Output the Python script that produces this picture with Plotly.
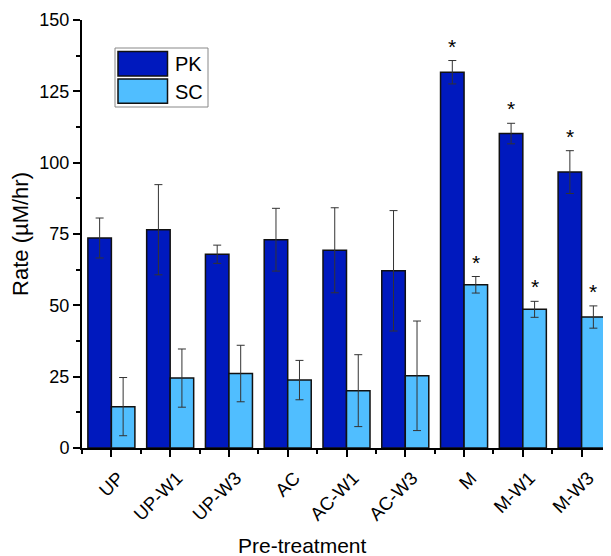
import plotly.graph_objects as go

categories = ["UP", "UP-W1", "UP-W3", "AC", "AC-W1", "AC-W3", "M", "M-W1", "M-W3"]
pk_values = [73.6, 76.5, 67.9, 73.0, 69.3, 62.1, 131.7, 110.2, 96.7]
pk_errors = [7.0, 15.8, 3.2, 11.0, 14.9, 21.1, 4.1, 3.6, 7.5]
sc_values = [14.5, 24.5, 26.1, 23.8, 20.1, 25.3, 57.2, 48.6, 45.9]
sc_errors = [10.2, 10.2, 9.9, 6.9, 12.6, 19.2, 2.9, 2.8, 3.9]
pk_signif = [False, False, False, False, False, False, True, True, True]
sc_signif = [False, False, False, False, False, False, True, True, True]
y_ticks = [0, 25, 50, 75, 100, 125, 150]

PK_COLOR = "#0019BE"
SC_COLOR = "#50BEFF"
FONT = "Arial, Liberation Sans, sans-serif"

xs = list(range(len(categories)))

fig = go.Figure()
for name, vals, errs, col in [("PK", pk_values, pk_errors, PK_COLOR),
                              ("SC", sc_values, sc_errors, SC_COLOR)]:
    fig.add_trace(go.Bar(
        x=xs, y=vals, name=name,
        marker=dict(color=col, line=dict(color="#111111", width=1.5)),
        error_y=dict(type="data", array=errs, visible=True,
                     color="#333333", thickness=1, width=4),
        showlegend=False,
    ))

annotations = []
for i in xs:
    if pk_signif[i]:
        annotations.append(dict(x=i - 0.2, y=pk_values[i] + pk_errors[i], xref="x", yref="y",
                                text="*", showarrow=False, yanchor="bottom", yshift=1,
                                font=dict(family=FONT, size=21, color="black")))
    if sc_signif[i]:
        annotations.append(dict(x=i + 0.2, y=sc_values[i] + sc_errors[i], xref="x", yref="y",
                                text="*", showarrow=False, yanchor="bottom", yshift=1,
                                font=dict(family=FONT, size=21, color="black")))

# plot area spans page px x 82..611, y 20..448 (page body has 8px margin)
PX0, PW, PY0, PH = 82, 529, 448, 428
def px(x):
    return (x - PX0) / PW
def py(y):
    return (PY0 - y) / PH

shapes = [
    dict(type="rect", xref="paper", yref="paper", x0=px(115), x1=px(208), y0=py(107), y1=py(48),
         line=dict(color="#888888", width=1), fillcolor="white"),
    dict(type="rect", xref="paper", yref="paper", x0=px(118), x1=px(167.5), y0=py(76), y1=py(51.5),
         line=dict(color="#111111", width=1.5), fillcolor=PK_COLOR),
    dict(type="rect", xref="paper", yref="paper", x0=px(118), x1=px(167.5), y0=py(103.3), y1=py(79),
         line=dict(color="#111111", width=1.5), fillcolor=SC_COLOR),
]
annotations += [
    dict(x=px(173), y=py(64), xref="paper", yref="paper", text="PK", showarrow=False,
         xanchor="left", yanchor="middle", font=dict(family=FONT, size=20, color="black")),
    dict(x=px(173), y=py(92), xref="paper", yref="paper", text="SC", showarrow=False,
         xanchor="left", yanchor="middle", font=dict(family=FONT, size=20, color="black")),
    dict(x=px(302.5), y=py(545), xref="paper", yref="paper", text="Pre-treatment",
         showarrow=False, xanchor="center", yanchor="middle",
         font=dict(family=FONT, size=21, color="black")),
]

fig.update_layout(
    width=603, height=548,
    margin=dict(l=74, r=0, t=12, b=108),
    plot_bgcolor="white", paper_bgcolor="white",
    barmode="group", bargap=0.2, bargroupgap=0,
    font=dict(family=FONT, color="black"),
    shapes=shapes, annotations=annotations,
)
fig.update_xaxes(
    range=[-0.5, 8.5], tickmode="array", tickvals=xs, ticktext=categories,
    tickangle=-45, tickfont=dict(size=18.5, family=FONT),
    ticklabelshift=7, ticklabelstandoff=3,
    showline=True, linecolor="black", linewidth=2,
    ticks="outside", ticklen=7, tickwidth=1.5, tickcolor="black",
    minor=dict(ticks="outside", ticklen=4, tickwidth=1.5, tickcolor="black",
               tickmode="linear", tick0=0.5, dtick=1),
    showgrid=False, zeroline=False,
)
fig.update_yaxes(
    range=[0, 150], tickmode="array", tickvals=y_ticks,
    tickfont=dict(size=18, family=FONT),
    title=dict(text="Rate (µM/hr)", font=dict(size=22, family=FONT), standoff=10),
    showline=True, linecolor="black", linewidth=2,
    ticks="outside", ticklen=7, tickwidth=1.5, tickcolor="black",
    minor=dict(ticks="outside", ticklen=4, tickwidth=1.5, tickcolor="black",
               tickmode="linear", tick0=12.5, dtick=25),
    showgrid=False, zeroline=False,
)

fig.write_html("out.html")
